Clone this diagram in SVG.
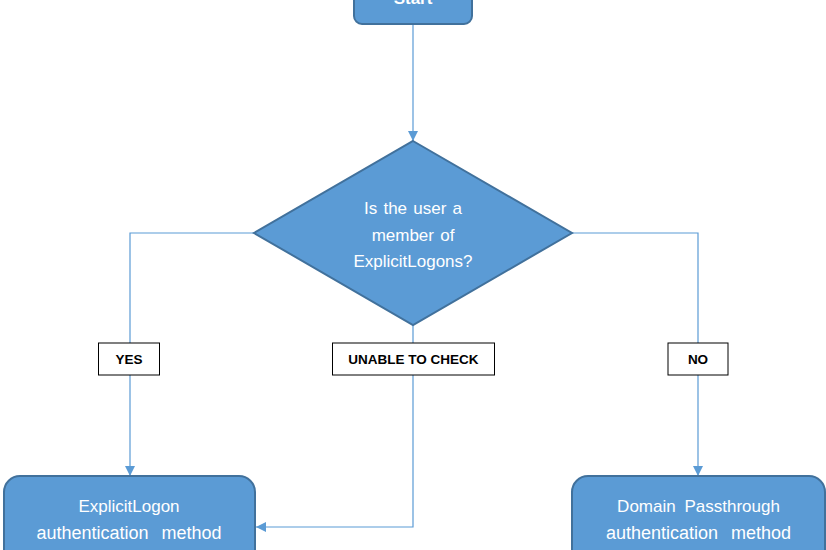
<svg xmlns="http://www.w3.org/2000/svg" width="826" height="550" viewBox="0 0 826 550">
<style>
.shape{fill:#5B9BD5;stroke:#41719C;stroke-width:2}
.conn{fill:none;stroke:#5B9BD5;stroke-width:1.2}
.lbl{fill:#fff;stroke:#000;stroke-width:1}
.t{font-family:"Liberation Sans",Arial,sans-serif;fill:#fff;font-size:17px;text-anchor:middle}
.bt{font-size:18px}
.lt{font-family:"Liberation Sans",Arial,sans-serif;fill:#000;font-size:13.5px;font-weight:bold;text-anchor:middle}
</style>
<defs>
<marker id="arr" viewBox="0 0 10 10" refX="10" refY="5" markerWidth="10" markerHeight="10" markerUnits="userSpaceOnUse" orient="auto">
<path d="M0,0 L10,5 L0,10 Z" fill="#5B9BD5"/>
</marker>
</defs>
<rect width="826" height="550" fill="#fff"/>
<g id="connectors">
<path class="conn" d="M413,24 V141" marker-end="url(#arr)"/>
<path class="conn" d="M254,233 H130 V476" marker-end="url(#arr)"/>
<path class="conn" d="M572,233 H698 V476" marker-end="url(#arr)"/>
<path class="conn" d="M413,325 V527 H256" marker-end="url(#arr)"/>
</g>
<g id="start">
<rect class="shape" x="354" y="-12" width="118" height="36" rx="8"/>
<text class="t" x="413" y="4" font-weight="bold">Start</text>
</g>
<g id="decision">
<path class="shape" d="M413,141 L572,233 L413,325 L254,233 Z"/>
<text class="t" x="413" y="214" word-spacing="1.5">Is the user a</text>
<text class="t" x="413" y="241" word-spacing="1.5">member of</text>
<text class="t" x="413" y="267">ExplicitLogons?</text>
</g>
<g id="label-yes">
<rect class="lbl" x="98.5" y="343" width="61" height="32"/>
<text class="lt" x="129" y="364">YES</text>
</g>
<g id="label-unable">
<rect class="lbl" x="332.5" y="343" width="162" height="32"/>
<text class="lt" x="413.5" y="364">UNABLE TO CHECK</text>
</g>
<g id="label-no">
<rect class="lbl" x="668" y="343" width="60" height="32"/>
<text class="lt" x="698" y="364">NO</text>
</g>
<g id="explicit">
<rect class="shape" x="4" y="476" width="251" height="100" rx="16"/>
<text class="t" x="129" y="512">ExplicitLogon</text>
<text class="t bt" x="129" y="539" word-spacing="8">authentication method</text>
</g>
<g id="passthrough">
<rect class="shape" x="572" y="476" width="253" height="100" rx="16"/>
<text class="t" x="698.5" y="512" word-spacing="4">Domain Passthrough</text>
<text class="t bt" x="698.5" y="539" word-spacing="8">authentication method</text>
</g>
</svg>
